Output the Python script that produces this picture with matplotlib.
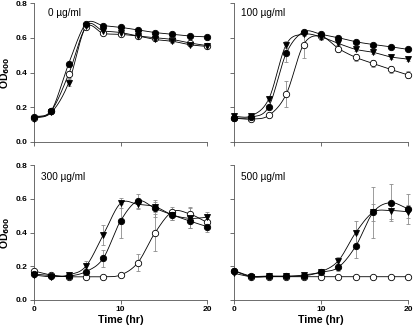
import numpy as np
import matplotlib
matplotlib.use("Agg")
import matplotlib.pyplot as plt

plt.rcParams['font.family'] = ['Liberation Sans', 'DejaVu Sans']

time = [0, 2, 4, 6, 8, 10, 12, 14, 16, 18, 20]
panel_labels = ["0 µg/ml", "100 µg/ml", "300 µg/ml", "500 µg/ml"]

# series: filled circles, open circles, triangles
c0_filled = [0.145, 0.18, 0.45, 0.68, 0.67, 0.66, 0.645, 0.63, 0.62, 0.61, 0.605]
c0_open = [0.14, 0.18, 0.39, 0.66, 0.625, 0.62, 0.61, 0.60, 0.59, 0.57, 0.555]
c0_tri = [0.135, 0.17, 0.34, 0.665, 0.64, 0.63, 0.61, 0.59, 0.58, 0.56, 0.55]
e0_filled = [0.005, 0.01, 0.01, 0.01, 0.01, 0.01, 0.01, 0.01, 0.01, 0.01, 0.01]
e0_open = [0.005, 0.01, 0.02, 0.01, 0.01, 0.01, 0.01, 0.01, 0.01, 0.01, 0.01]
e0_tri = [0.005, 0.01, 0.02, 0.01, 0.01, 0.01, 0.01, 0.01, 0.01, 0.01, 0.01]

c100_filled = [0.137, 0.143, 0.204, 0.51, 0.634, 0.62, 0.60, 0.577, 0.561, 0.548, 0.533]
c100_open = [0.137, 0.132, 0.153, 0.275, 0.561, 0.609, 0.538, 0.487, 0.452, 0.418, 0.386]
c100_tri = [0.147, 0.151, 0.248, 0.561, 0.62, 0.605, 0.567, 0.533, 0.516, 0.49, 0.477]
e100_filled = [0.005, 0.005, 0.01, 0.05, 0.01, 0.01, 0.01, 0.01, 0.01, 0.01, 0.01]
e100_open = [0.005, 0.005, 0.01, 0.075, 0.08, 0.02, 0.02, 0.02, 0.02, 0.02, 0.02]
e100_tri = [0.005, 0.005, 0.01, 0.02, 0.01, 0.01, 0.01, 0.01, 0.01, 0.01, 0.01]

c300_filled = [0.154, 0.144, 0.142, 0.168, 0.247, 0.468, 0.587, 0.543, 0.504, 0.468, 0.435]
c300_open = [0.172, 0.148, 0.138, 0.138, 0.138, 0.148, 0.221, 0.399, 0.523, 0.51, 0.46]
c300_tri = [0.148, 0.138, 0.148, 0.20, 0.385, 0.573, 0.567, 0.553, 0.504, 0.484, 0.49]
e300_filled = [0.005, 0.005, 0.005, 0.01, 0.05, 0.1, 0.04, 0.05, 0.03, 0.04, 0.03]
e300_open = [0.005, 0.005, 0.005, 0.005, 0.005, 0.01, 0.05, 0.11, 0.03, 0.04, 0.03]
e300_tri = [0.005, 0.005, 0.005, 0.03, 0.06, 0.03, 0.03, 0.03, 0.03, 0.06, 0.03]

c500_filled = [0.174, 0.142, 0.142, 0.142, 0.143, 0.164, 0.194, 0.32, 0.52, 0.577, 0.54]
c500_open = [0.172, 0.138, 0.138, 0.138, 0.138, 0.138, 0.138, 0.138, 0.138, 0.138, 0.138]
c500_tri = [0.158, 0.138, 0.14, 0.14, 0.148, 0.168, 0.233, 0.40, 0.52, 0.53, 0.523]
e500_filled = [0.005, 0.005, 0.005, 0.005, 0.005, 0.01, 0.02, 0.07, 0.15, 0.11, 0.09]
e500_open = [0.005, 0.005, 0.005, 0.005, 0.005, 0.005, 0.005, 0.005, 0.005, 0.005, 0.005]
e500_tri = [0.005, 0.005, 0.005, 0.005, 0.005, 0.01, 0.02, 0.07, 0.05, 0.05, 0.04]

panels = [
    (c0_filled, c0_open, c0_tri, e0_filled, e0_open, e0_tri),
    (c100_filled, c100_open, c100_tri, e100_filled, e100_open, e100_tri),
    (c300_filled, c300_open, c300_tri, e300_filled, e300_open, e300_tri),
    (c500_filled, c500_open, c500_tri, e500_filled, e500_open, e500_tri),
]


def smooth_curve(x, y, n=20):
    x = np.asarray(x, float)
    y = np.asarray(y, float)
    xs, ys = [], []
    m = np.gradient(y, x)
    for i in range(len(x) - 1):
        h = x[i + 1] - x[i]
        t = np.linspace(0, 1, n, endpoint=False)
        h00 = 2 * t**3 - 3 * t**2 + 1
        h10 = t**3 - 2 * t**2 + t
        h01 = -2 * t**3 + 3 * t**2
        h11 = t**3 - t**2
        xs.append(x[i] + t * h)
        ys.append(h00 * y[i] + h10 * h * m[i] + h01 * y[i + 1] + h11 * h * m[i + 1])
    xs.append([x[-1]])
    ys.append([y[-1]])
    return np.concatenate(xs), np.concatenate(ys)


W, H = 416, 330
fig = plt.figure(figsize=(W / 100, H / 100), dpi=100)

rects = [(34, 3, 207, 142), (234, 3, 408, 142), (34, 165, 207, 300), (234, 165, 408, 300)]
label_pos = [(1.6, 0.74), (0.8, 0.74), (0.8, 0.73), (0.8, 0.73)]

for idx, (rect, pdata) in enumerate(zip(rects, panels)):
    x0, y0, x1, y1 = rect
    ax = fig.add_axes([x0 / W, 1 - y1 / H, (x1 - x0) / W, (y1 - y0) / H])
    filled, opened, tri, ef, eo, et = pdata
    styles = [
        (opened, eo, dict(marker='o', mfc='white', mec='black', ms=4.6)),
        (tri, et, dict(marker='v', mfc='black', mec='black', ms=5.0)),
        (filled, ef, dict(marker='o', mfc='black', mec='black', ms=4.6)),
    ]
    for vals, errs, st in styles:
        sx, sy = smooth_curve(time, vals)
        ax.plot(sx, sy, color='black', lw=0.6, zorder=2, clip_on=False)
    for vals, errs, st in styles:
        ax.errorbar(time, vals, yerr=errs, fmt='none', ecolor='#8c8c8c',
                    elinewidth=0.6, capsize=1.6, capthick=0.6, zorder=3, clip_on=False)
    for vals, errs, st in styles:
        ax.plot(time, vals, linestyle='none', mew=0.6, zorder=4, clip_on=False, **st)

    ax.set_xlim(0, 20)
    ax.set_ylim(0, 0.8)
    ax.set_xticks([0, 10, 20])
    ax.set_yticks([0.0, 0.2, 0.4, 0.6, 0.8])
    for s in ['top', 'right']:
        ax.spines[s].set_visible(False)
    for s in ['left', 'bottom']:
        ax.spines[s].set_linewidth(0.6)
        ax.spines[s].set_color('#555555')
    ax.tick_params(length=3, width=0.6, color='#555555', labelsize=6, pad=1.5)
    if idx in (1, 3):
        ax.set_yticklabels([])
    else:
        ax.set_yticklabels(['0.0', '0.2', '0.4', '0.6', '0.8'])
        ax.set_ylabel('OD$_{\\mathbf{600}}$', fontsize=7.5, fontweight='bold', va='center')
        ax.yaxis.set_label_coords((5.5 - x0) / (x1 - x0), 0.5)
    if idx in (0, 1):
        ax.set_xticklabels([])
    else:
        ax.set_xlabel('Time (hr)', fontsize=7.7, fontweight='bold', labelpad=1.5)
    for lab in ax.get_xticklabels() + ax.get_yticklabels():
        lab.set_fontweight('bold')
    ax.text(label_pos[idx][0], label_pos[idx][1], panel_labels[idx], fontsize=7.2,
            va='center', ha='left')

fig.savefig('out.png', dpi=100)
